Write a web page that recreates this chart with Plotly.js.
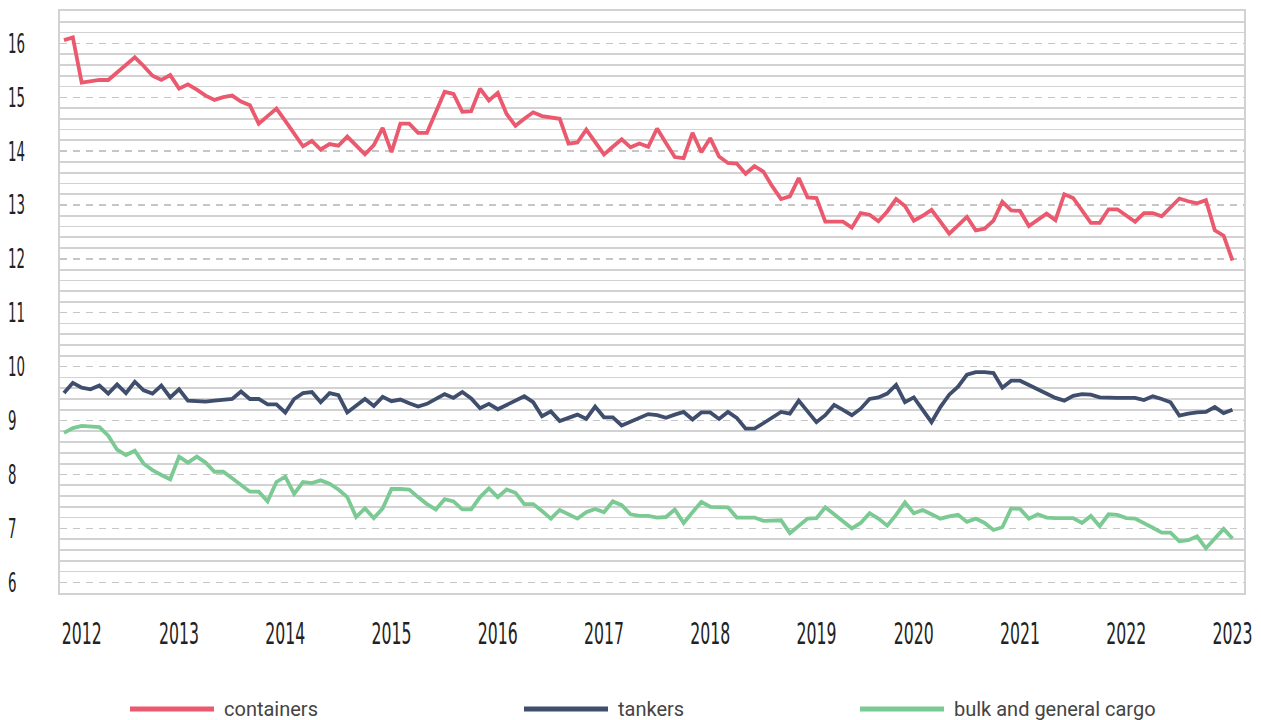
<!DOCTYPE html>
<html>
<head>
<meta charset="utf-8">
<script src="https://cdn.plot.ly/plotly-3.0.1.min.js"></script>
<style>
html,body{margin:0;padding:0;background:#ffffff;}
#chart{width:1261px;height:720px;}
</style>
</head>
<body>
<div id="chart"></div>
<script>
// ---- data (monthly, Jan 2012 .. Jan 2023) ----
const yearLabels = ['2012','2013','2014','2015','2016','2017','2018','2019','2020','2021','2022','2023'];
const yearTickMonths = [2,13,25,37,49,61,73,85,96,108,120,132];

const containers = [
16.06,16.11,15.27,15.30,15.32,15.32,15.46,15.60,15.74,15.58,
15.40,15.32,15.41,15.16,15.24,15.14,15.03,14.95,15.00,15.03,
14.92,14.85,14.51,14.65,14.79,14.56,14.32,14.09,14.19,14.03,
14.13,14.10,14.27,14.11,13.94,14.11,14.43,13.98,14.51,14.51,
14.34,14.34,14.72,15.10,15.06,14.73,14.74,15.16,14.94,15.08,
14.69,14.47,14.60,14.72,14.65,14.62,14.60,14.14,14.16,14.40,
14.17,13.94,14.08,14.22,14.07,14.14,14.08,14.42,14.15,13.89,
13.87,14.34,13.98,14.24,13.90,13.78,13.77,13.58,13.72,13.62,
13.35,13.11,13.16,13.50,13.14,13.13,12.69,12.69,12.69,12.58,
12.85,12.82,12.70,12.88,13.11,12.98,12.71,12.80,12.91,12.69,
12.47,12.62,12.78,12.53,12.56,12.71,13.06,12.90,12.89,12.61,
12.72,12.84,12.72,13.20,13.13,12.90,12.67,12.67,12.92,12.92,
12.80,12.69,12.85,12.85,12.79,12.95,13.12,13.07,13.03,13.09,
12.53,12.43,11.97
];

const tankers = [
9.51,9.70,9.61,9.58,9.65,9.50,9.67,9.51,9.72,9.56,
9.50,9.65,9.43,9.58,9.37,9.36,9.35,9.37,9.39,9.40,
9.54,9.40,9.40,9.30,9.30,9.15,9.40,9.51,9.53,9.34,
9.51,9.47,9.15,9.27,9.40,9.27,9.44,9.36,9.39,9.32,
9.26,9.31,9.40,9.49,9.42,9.53,9.41,9.23,9.31,9.21,
9.29,9.37,9.45,9.34,9.08,9.17,8.99,9.05,9.11,9.03,
9.26,9.06,9.06,8.91,8.98,9.05,9.12,9.10,9.05,9.11,
9.16,9.02,9.15,9.15,9.03,9.16,9.05,8.85,8.85,8.95,
9.06,9.16,9.13,9.37,9.17,8.97,9.10,9.29,9.20,9.10,
9.22,9.40,9.43,9.50,9.66,9.34,9.43,9.20,8.97,9.25,
9.48,9.63,9.85,9.90,9.90,9.88,9.61,9.74,9.74,9.66,
9.58,9.50,9.42,9.37,9.46,9.49,9.48,9.43,9.42,9.42,
9.42,9.42,9.38,9.45,9.40,9.34,9.09,9.13,9.15,9.16,
9.25,9.14,9.20
];

const bulkGeneralCargo = [
8.77,8.86,8.90,8.89,8.88,8.72,8.46,8.36,8.44,8.20,
8.08,7.99,7.91,8.33,8.22,8.33,8.22,8.05,8.05,7.93,
7.80,7.68,7.68,7.50,7.86,7.96,7.64,7.86,7.84,7.89,
7.83,7.72,7.58,7.21,7.37,7.19,7.37,7.73,7.73,7.72,
7.58,7.45,7.35,7.54,7.50,7.35,7.35,7.58,7.74,7.58,
7.72,7.66,7.45,7.45,7.32,7.18,7.34,7.26,7.18,7.30,
7.36,7.30,7.50,7.43,7.26,7.23,7.23,7.20,7.21,7.35,
7.10,7.30,7.49,7.40,7.39,7.39,7.20,7.20,7.20,7.14,
7.14,7.15,6.91,7.04,7.18,7.19,7.39,7.26,7.13,7.00,
7.10,7.28,7.18,7.05,7.25,7.48,7.28,7.34,7.26,7.18,
7.22,7.25,7.12,7.18,7.10,6.97,7.02,7.37,7.36,7.18,
7.26,7.20,7.19,7.19,7.19,7.10,7.23,7.04,7.26,7.25,
7.19,7.18,7.10,7.01,6.92,6.92,6.76,6.78,6.85,6.63,
6.81,6.99,6.81
];

const seriesNames = ['containers','tankers','bulk and general cargo'];
const seriesColors = ['#EA596E','#3F4E6D','#7CCA93'];
const seriesValues = [containers, tankers, bulkGeneralCargo];

// ---- layout geometry ----
const W = 1261, H = 720;
const M = {l:60, r:17, t:11, b:127};
const plotW = W - M.l - M.r, plotH = H - M.t - M.b;
const pxX = px => (px - M.l) / plotW;
const pxY = py => (H - M.b - py) / plotH;

const monthIndex = containers.map((_, i) => i);

const traces = seriesValues.map((vals, k) => ({
  type: 'scatter',
  mode: 'lines',
  x: monthIndex,
  y: vals,
  name: seriesNames[k],
  line: {color: seriesColors[k], width: 3.8, shape: 'linear'},
  hoverinfo: 'skip',
  showlegend: false
}));

// custom legend (long swatches like the reference)
const legendStartPx = [130, 524, 860];
const swatchLen = 84;
const legendYpx = 709;
const shapes = [];
const annotations = [];
seriesNames.forEach((name, k) => {
  shapes.push({
    type: 'line', xref: 'paper', yref: 'paper',
    x0: pxX(legendStartPx[k]), x1: pxX(legendStartPx[k] + swatchLen),
    y0: pxY(legendYpx), y1: pxY(legendYpx),
    line: {color: seriesColors[k], width: 5}
  });
  annotations.push({
    xref: 'paper', yref: 'paper',
    x: pxX(legendStartPx[k] + swatchLen + 8), y: pxY(legendYpx),
    xanchor: 'left', yanchor: 'middle', showarrow: false,
    text: name,
    font: {family: 'Roboto, "Noto Sans", sans-serif', size: 20, color: '#444444'}
  });
});

const condensed = '"Liberation Sans Narrow", "DejaVu Sans Condensed", "Roboto Condensed", sans-serif';

const layout = {
  width: W, height: H,
  margin: M,
  paper_bgcolor: '#ffffff',
  plot_bgcolor: '#ffffff',
  showlegend: false,
  xaxis: {
    range: [-0.45, 133.3],
    tickmode: 'array',
    tickvals: yearTickMonths,
    ticktext: yearLabels,
    showgrid: false,
    zeroline: false,
    ticks: '',
    showline: true, mirror: true, linecolor: '#d2d2d2', linewidth: 2,
    ticklabelstandoff: 13,
    ticklabeloverflow: 'allow',
    tickfont: {family: condensed, size: 30, color: '#222222'}
  },
  yaxis: {
    range: [5.8, 16.6],
    tick0: 0, dtick: 1,
    showgrid: true, gridcolor: '#c6c6c6', gridwidth: 1.4, griddash: '7px,6px',
    minor: {tick0: 0, dtick: 0.2, showgrid: true, gridcolor: '#d2d2d2', gridwidth: 1.8, griddash: 'solid', ticks: ''},
    zeroline: false,
    ticks: '',
    showline: true, mirror: true, linecolor: '#d2d2d2', linewidth: 2,
    ticklabelstandoff: 35,
    tickfont: {family: condensed, size: 27, color: '#222222'}
  },
  shapes: shapes,
  annotations: annotations
};

Plotly.newPlot('chart', traces, layout, {staticPlot: true, displayModeBar: false}).then(() => {
  // condense tick labels like the reference's narrow display face
  document.querySelectorAll('#chart .xtick text').forEach(t => {
    t.setAttribute('lengthAdjust', 'spacingAndGlyphs');
    t.setAttribute('textLength', '40');
  });
  document.querySelectorAll('#chart .ytick text').forEach(t => {
    const n = (t.textContent || '').length;
    t.setAttribute('lengthAdjust', 'spacingAndGlyphs');
    t.setAttribute('textLength', String(n * 8.5));
    t.setAttribute('text-anchor', 'start');
    const r = t.getBoundingClientRect();
    const x0 = parseFloat(t.getAttribute('x') || '0');
    t.setAttribute('x', String(x0 + (8 - r.left)));
  });
});
</script>
</body>
</html>
